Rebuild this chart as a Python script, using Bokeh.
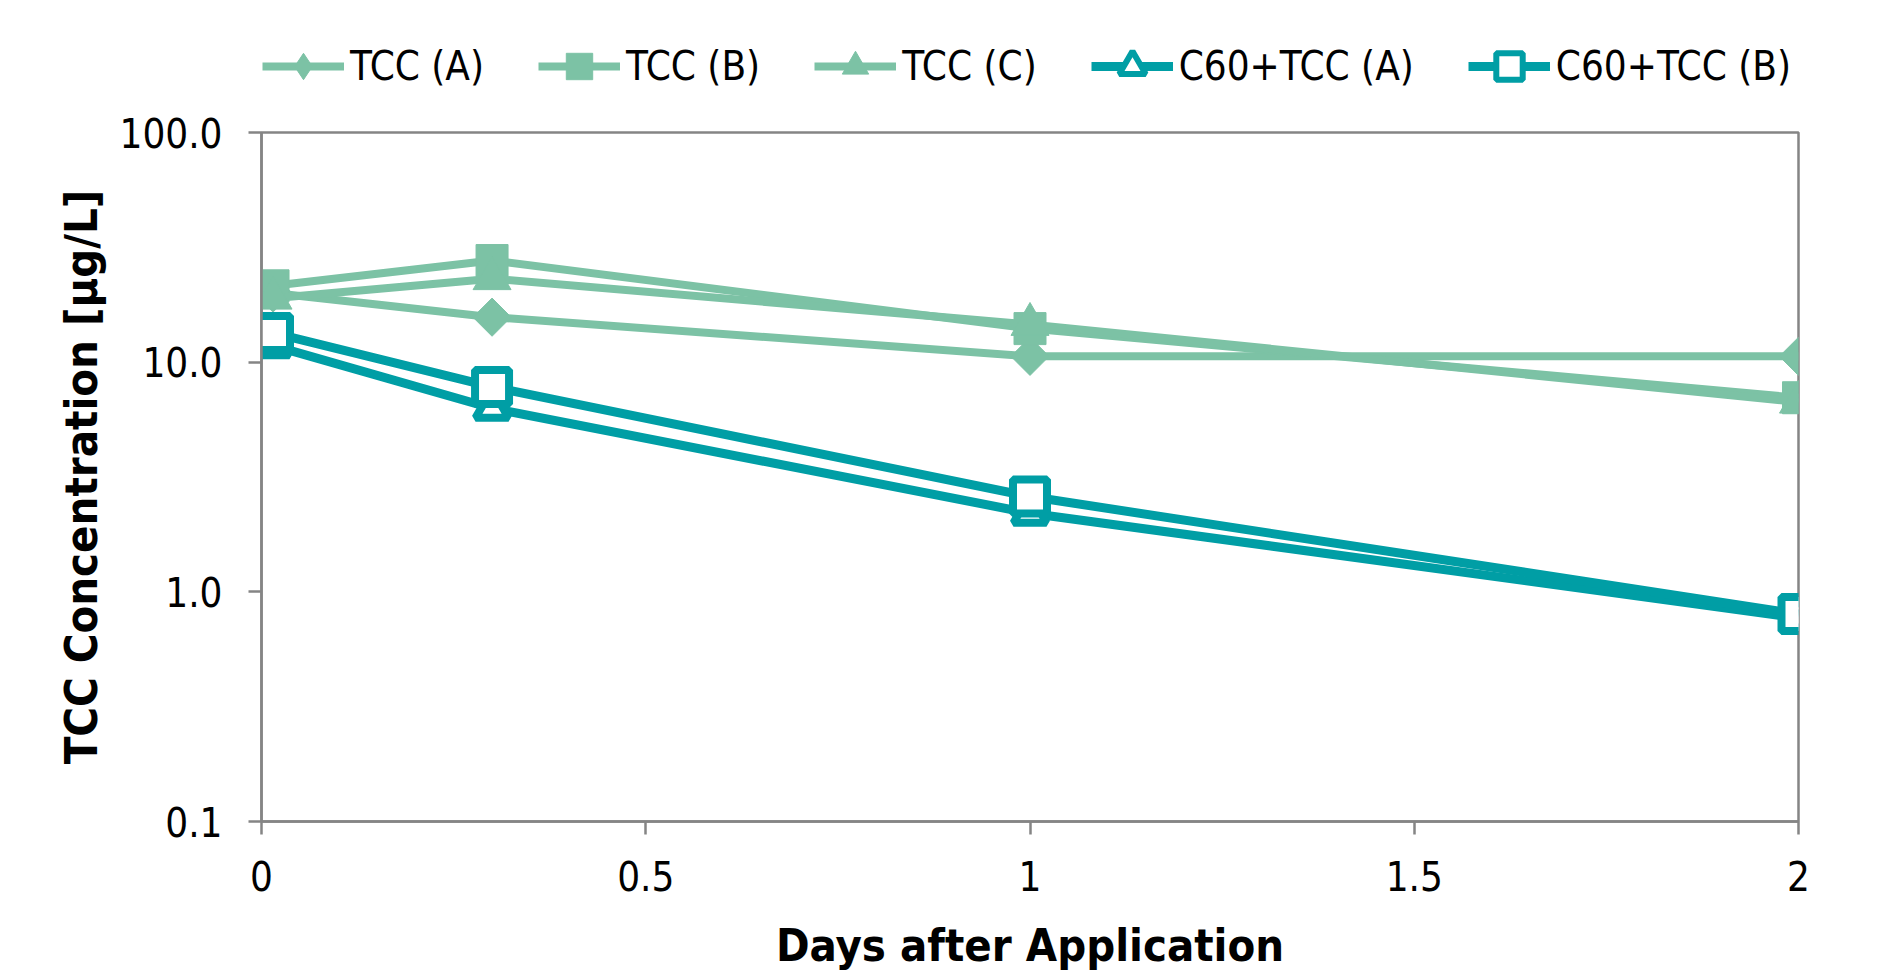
from bokeh.plotting import figure
from bokeh.layouts import column
from bokeh.models import FixedTicker, Legend, LegendItem, CustomJSTickFormatter, Range1d
from bokeh.embed import file_html
from bokeh.resources import INLINE
import math

# ---- data ----
days = [0.015, 0.3, 1.0, 2.0]
tcc_a = [20.0, 15.7, 10.6, 10.6]
tcc_b = [21.5, 27.7, 14.0, 7.0]
tcc_c = [19.0, 23.1, 14.6, 6.7]
c60_a = [11.8, 6.3, 2.2, 0.77]
c60_b = [13.4, 7.8, 2.6, 0.80]
series_names = ["TCC (A)", "TCC (B)", "TCC (C)", "C60+TCC (A)", "C60+TCC (B)"]
x_ticks = [0, 0.5, 1, 1.5, 2]
y_ticks = [0.1, 1, 10, 100]

GREEN = "#7CC2A5"
TEAL = "#009EA5"
AXIS = "#858585"
FONT = "DejaVu Sans Condensed, Roboto, sans-serif"

# style per series: (marker, angle, size, fill, line colour, marker line width, line width, legend marker)
styles = [
    ("square", math.pi / 4, 27, GREEN, GREEN, 1, 8, "diamond"),
    ("square", 0, 32, GREEN, GREEN, 1, 8, "square"),
    ("triangle", 0, 38, GREEN, GREEN, 1, 8, "triangle"),
    ("triangle", 0, 33, "white", TEAL, 8, 9, "triangle"),
    ("square", 0, 34, "white", TEAL, 8, 9, "square"),
]
series = [tcc_a, tcc_b, tcc_c, c60_a, c60_b]

TOP = 100
p = figure(width=1862, height=974 - TOP, output_backend="svg", toolbar_location=None,
           y_axis_type="log", x_range=Range1d(0, 2), y_range=Range1d(0.1, 100),
           min_border_left=261, min_border_right=64, min_border_top=132 - TOP, min_border_bottom=152)
p.xgrid.visible = False
p.ygrid.visible = False
p.outline_line_color = AXIS
p.outline_line_width = 2.5

for vals, (mk, ang, sz, fc, lc, mlw, lw, _) in zip(series, styles):
    p.line(days, vals, line_color=lc, line_width=lw)
    p.scatter(days, vals, marker=mk, angle=ang, size=sz, fill_color=fc, line_color=lc, line_width=mlw)

# axes
for ax in (p.xaxis[0], p.yaxis[0]):
    ax.axis_line_color = AXIS
    ax.axis_line_width = 2.5
    ax.major_tick_line_color = AXIS
    ax.major_tick_line_width = 2.5
    ax.major_tick_out = 13
    ax.major_tick_in = 0
    ax.minor_tick_line_color = None
    ax.major_label_text_font = FONT
    ax.major_label_text_font_size = "40px"
    ax.major_label_text_color = "#000000"
    ax.major_label_standoff = 26
    ax.axis_label_text_font = FONT
    ax.axis_label_text_font_style = "bold"
    ax.axis_label_text_font_size = "45px"
    ax.axis_label_text_color = "#000000"

p.xaxis.ticker = FixedTicker(ticks=x_ticks)
p.yaxis.ticker = FixedTicker(ticks=y_ticks)
p.yaxis.formatter = CustomJSTickFormatter(code="return tick.toFixed(1);")
p.xaxis.formatter = CustomJSTickFormatter(code="return String(tick);")
p.xaxis.axis_label = "Days after Application"
p.yaxis.axis_label = "TCC Concentration [µg/L]"
p.xaxis.axis_label_standoff = 25
p.yaxis.axis_label_standoff = 9

# legend strip above the plot; its key renderers hold the same series but lie outside its view
lg = figure(width=1862, height=TOP, output_backend="svg", toolbar_location=None,
            x_range=Range1d(10, 11), y_range=Range1d(1000, 2000), x_axis_type=None, y_axis_type=None,
            min_border=0)
lg.xgrid.visible = False
lg.ygrid.visible = False
lg.outline_line_color = None
items = []
for name, vals, (mk, ang, sz, fc, lc, mlw, lw, lmk) in zip(series_names, series, styles):
    lr = lg.line(days, vals, line_color=lc, line_width=lw)
    sr = lg.scatter(days, vals, marker=lmk, size=sz, fill_color=fc, line_color=lc,
                    line_width=min(mlw, 6))
    items.append(LegendItem(label=name, renderers=[lr, sr]))
legend = Legend(items=items, orientation="horizontal", location=(1, 1),
                label_text_font=FONT, label_text_font_size="40px", label_text_color="#000000",
                glyph_width=82, glyph_height=66, spacing=54, label_standoff=6,
                background_fill_alpha=0, border_line_alpha=0, padding=0, margin=0)
lg.add_layout(legend, "center")

layout = column(lg, p, spacing=0)
open("out.html", "w").write(file_html(layout, INLINE))
